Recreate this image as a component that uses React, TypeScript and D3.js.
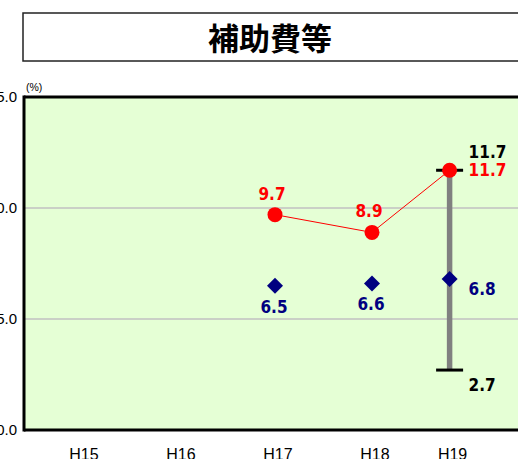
import React from "react";
import * as d3 from "d3";

const title = "補助費等";
const categories = ["H15", "H16", "H17", "H18", "H19"];
const categoryPos = [0, 1, 2, 3, 3.8];
const redSeries = [null, null, 9.7, 8.9, 11.7];
const blueSeries = [null, null, 6.5, 6.6, 6.8];
const rangeHigh = [null, null, null, null, 11.7];
const rangeLow = [null, null, null, null, 2.7];
const yTicks = [0, 5, 10, 15];

const W = 518;
const H = 459;
const FONT = "'Liberation Sans', Arial, sans-serif";
const NARROW = "'Liberation Sans Narrow', 'DejaVu Sans Condensed', 'Arial Narrow', sans-serif";

export default function App() {
  const x = d3.scaleLinear().domain([2, 3]).range([275, 372]);
  const y = d3.scaleLinear().domain([0, 15]).range([430, 97]);
  const px = (i: number) => x(categoryPos[i]);

  const redPts = redSeries
    .map((v, i) => (v == null ? null : ([px(i), y(v)] as [number, number])))
    .filter((d) => d != null) as [number, number][];
  const line = d3.line();

  const plotLeft = 24;
  const plotTop = y(15);
  const plotBottom = y(0);

  return (
    <svg
      width={W}
      height={H}
      style={{ position: "absolute", left: 0, top: 0, background: "#fff" }}
    >
      {/* title box */}
      <rect x={23} y={13} width={520} height={48} fill="#fff" stroke="#222" strokeWidth={1.5} />
      <text
        x={270}
        y={36}
        textAnchor="middle"
        dominantBaseline="central"
        fontFamily="'Noto Sans CJK JP', sans-serif"
        fontWeight="bold"
        fontSize={31}
        fill="#000"
      >
        {title}
      </text>

      {/* plot background */}
      <rect x={plotLeft} y={plotTop} width={W} height={plotBottom - plotTop} fill="#e5ffd5" />
      {yTicks
        .filter((t) => t > 0 && t < 15)
        .map((t) => (
          <line key={t} x1={plotLeft} x2={W} y1={y(t)} y2={y(t)} stroke="#c0c0c0" strokeWidth={1.5} />
        ))}
      {/* axes frame */}
      <line x1={plotLeft} x2={W} y1={plotTop} y2={plotTop} stroke="#000" strokeWidth={3} />
      <line x1={plotLeft} x2={W} y1={plotBottom} y2={plotBottom} stroke="#000" strokeWidth={3} />
      <line x1={plotLeft} x2={plotLeft} y1={plotTop - 1.5} y2={plotBottom + 1.5} stroke="#000" strokeWidth={3} />

      {/* y tick labels */}
      {yTicks.map((t) => (
        <text
          key={t}
          x={17}
          y={y(t) - 1}
          textAnchor="end"
          dominantBaseline="central"
          fontFamily={FONT}
          fontSize={15}
          fill="#000"
        >
          {t.toFixed(1)}
        </text>
      ))}
      <text x={26} y={87} fontFamily={FONT} fontSize={10.5} fill="#000" dominantBaseline="central">
        (%)
      </text>

      {/* x labels */}
      {categories.map((c, i) => (
        <text key={c} x={px(i) + 3} y={460} textAnchor="middle" fontFamily={FONT} fontSize={16} fill="#000">
          {c}
        </text>
      ))}

      {/* range bar */}
      {rangeHigh.map((hi, i) => {
        const lo = rangeLow[i];
        if (hi == null || lo == null) return null;
        const cx = px(i);
        return (
          <g key={"r" + i}>
            <line x1={cx} x2={cx} y1={y(hi)} y2={y(lo)} stroke="#808080" strokeWidth={5.5} />
            <line x1={cx - 13.5} x2={cx + 13.5} y1={y(hi)} y2={y(hi)} stroke="#000" strokeWidth={3} />
            <line x1={cx - 13.5} x2={cx + 13.5} y1={y(lo)} y2={y(lo)} stroke="#000" strokeWidth={3} />
            <text x={cx + 19} y={y(hi) - 18.5} dominantBaseline="central" fontFamily={NARROW} fontWeight="bold" fontSize={17} fill="#000">
              {hi.toFixed(1)}
            </text>
            <text x={cx + 19} y={y(lo) + 15} dominantBaseline="central" fontFamily={NARROW} fontWeight="bold" fontSize={17} fill="#000">
              {lo.toFixed(1)}
            </text>
          </g>
        );
      })}

      {/* red line */}
      <path d={line(redPts) || ""} fill="none" stroke="#ff0000" strokeWidth={1} />
      {redSeries.map((v, i) =>
        v == null ? null : (
          <g key={"c" + i}>
            <circle cx={px(i)} cy={y(v)} r={7.5} fill="#ff0000" />
            {i === redSeries.length - 1 ? (
              <text x={px(i) + 19} y={y(v)} dominantBaseline="central" fontFamily={NARROW} fontWeight="bold" fontSize={17} fill="#ff0000">
                {v.toFixed(1)}
              </text>
            ) : (
              <text x={px(i) - 3} y={y(v) - 21} textAnchor="middle" dominantBaseline="central" fontFamily={NARROW} fontWeight="bold" fontSize={17} fill="#ff0000">
                {v.toFixed(1)}
              </text>
            )}
          </g>
        )
      )}

      {/* blue diamonds */}
      {blueSeries.map((v, i) => {
        if (v == null) return null;
        const cx = px(i);
        const cy = y(v);
        const s = 8;
        return (
          <g key={"d" + i}>
            <path d={`M${cx},${cy - s}L${cx + s},${cy}L${cx},${cy + s}L${cx - s},${cy}Z`} fill="#000080" />
            {i === blueSeries.length - 1 ? (
              <text x={cx + 19} y={cy + 10} dominantBaseline="central" fontFamily={NARROW} fontWeight="bold" fontSize={17} fill="#000080">
                {v.toFixed(1)}
              </text>
            ) : (
              <text x={cx - 1} y={cy + 21} textAnchor="middle" dominantBaseline="central" fontFamily={NARROW} fontWeight="bold" fontSize={17} fill="#000080">
                {v.toFixed(1)}
              </text>
            )}
          </g>
        );
      })}
    </svg>
  );
}
